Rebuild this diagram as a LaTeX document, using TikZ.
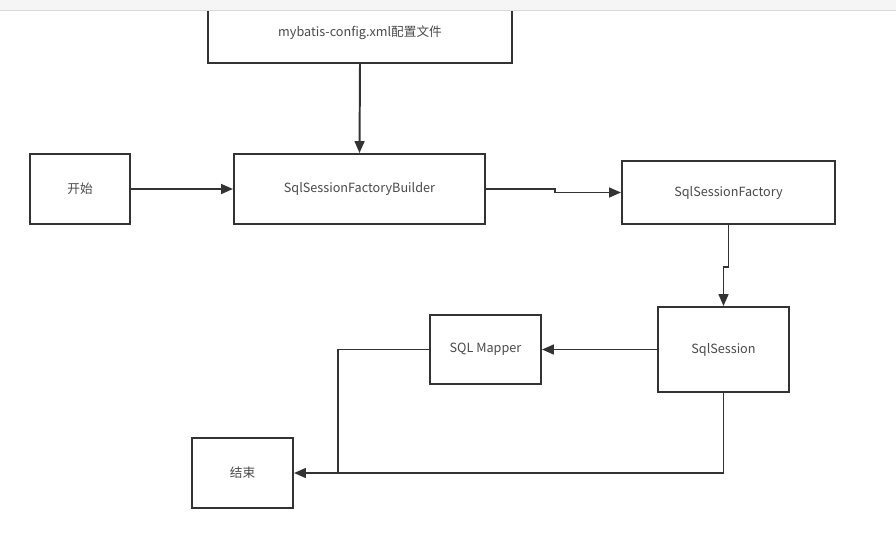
\documentclass[tikz,border=0pt]{standalone}
\usepackage{fontspec}
\setmainfont{Noto Sans CJK SC}
\usetikzlibrary{arrows.meta}
\definecolor{linegray}{HTML}{333333}
\definecolor{textgray}{HTML}{4A4A4A}

\begin{document}
\begin{tikzpicture}[
    x=0.025cm, y=-0.025cm,
    box/.style={draw=linegray, line width=1.4pt, fill=white, inner sep=0pt,
      font=\fontsize{9}{11}\selectfont, text=textgray},
    flow/.style={draw=linegray, line width=1.4pt,
      -{Triangle[length=8.5pt, width=7pt]}},
    line join=miter,
  ]
  \useasboundingbox (0,0) rectangle (896,555);
  % toolbar strip
  \fill[white] (0,0) rectangle (896,555);
  \node[box, minimum width=304*0.025cm, minimum height=60*0.025cm] (config) at (360,33) {mybatis-config.xml配置文件};
  \fill[black!4] (0,0) rectangle (896,10);
  \draw[black!15, line width=1pt] (0,10.5) -- (896,10.5);
  \node[box, minimum width=100*0.025cm, minimum height=70*0.025cm] (start) at (80,189) {开始};
  \node[box, minimum width=251*0.025cm, minimum height=70*0.025cm] (builder) at (359.5,189) {SqlSessionFactoryBuilder};
  \node[box, minimum width=213*0.025cm, minimum height=63*0.025cm] (factory) at (728.5,192.5) {SqlSessionFactory};
  \node[box, minimum width=131*0.025cm, minimum height=85*0.025cm] (session) at (723.5,349.5) {SqlSession};
  \node[box, minimum width=111*0.025cm, minimum height=69*0.025cm] (mapper) at (485.5,349.5) {SQL Mapper};
  \node[box, minimum width=101*0.025cm, minimum height=70*0.025cm] (end) at (242.5,473) {结束};
  \coordinate (join) at (338,473);

  \draw[flow] (config.south) -- (builder.north);
  \draw[flow] (start.east) -- (builder.west);
  \draw[flow] (builder.east) -- ++(69,0) |- (factory.west);
  \draw[flow] (factory.south) -- ++(0,42) -| (session.north);
  \draw[flow] (session.west) -- (mapper.east);
  \draw[draw=linegray, line width=1.4pt] (mapper.west) -| (join);
  \draw[flow] (session.south) |- (end.east);
\end{tikzpicture}
\end{document}
